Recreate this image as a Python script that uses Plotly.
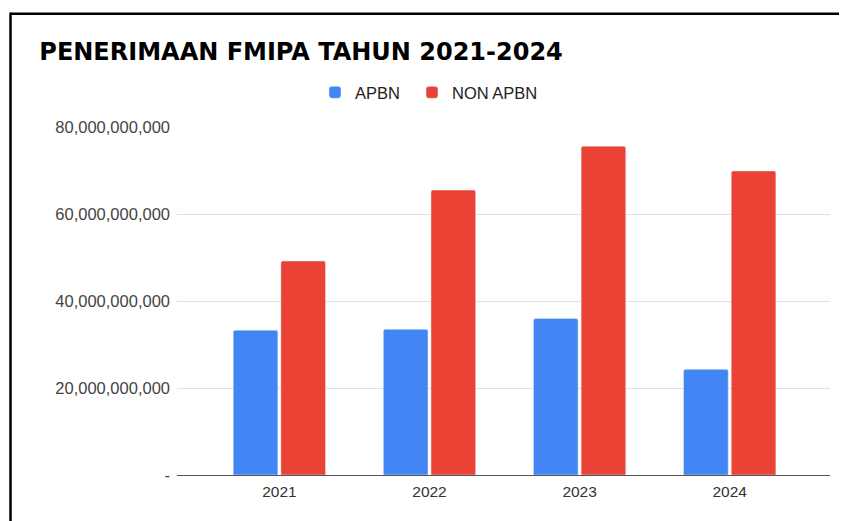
import plotly.graph_objects as go

years = ["2021", "2022", "2023", "2024"]
apbn = [33_300_000_000, 33_500_000_000, 36_000_000_000, 24_300_000_000]
non_apbn = [49_200_000_000, 65_500_000_000, 75_600_000_000, 69_900_000_000]
y_tickvals = [0, 20_000_000_000, 40_000_000_000, 60_000_000_000, 80_000_000_000]
y_ticktext = ["-", "20,000,000,000", "40,000,000,000", "60,000,000,000", "80,000,000,000"]

# the page body has an 8px margin; work in page pixels and convert
OFF = 8
W, H = 847 - OFF, 521 - OFF
L, T = 177 - OFF, 127 - OFF
R = W - (830 - OFF)
B = H - (475.5 - OFF)
pw, ph = W - L - R, H - T - B

def px_x(p):  # page pixel -> paper x
    return (p - OFF - L) / pw

def px_y(p):  # page pixel -> paper y
    return (H - B - (p - OFF)) / ph

fig = go.Figure()
fig.add_trace(go.Bar(name="APBN", x=years, y=apbn, legend="legend",
                     marker=dict(color="#4285F4", cornerradius=2)))
fig.add_trace(go.Bar(name="NON APBN", x=years, y=non_apbn, legend="legend2",
                     marker=dict(color="#EA4335", cornerradius=2)))

legend_common = dict(orientation="h", xanchor="left", yanchor="middle",
                     font=dict(size=16.5, color="#222"), bgcolor="rgba(0,0,0,0)")

fig.update_layout(
    width=W, height=H,
    margin=dict(l=L, r=R, t=T, b=B, pad=0),
    paper_bgcolor="white", plot_bgcolor="white",
    barmode="group", bargap=0.365, bargroupgap=0.063,
    font=dict(family="Liberation Sans, Arial, sans-serif", color="#444"),
    title=dict(text="<b>PENERIMAAN FMIPA TAHUN 2021-2024</b>",
               font=dict(family="DejaVu Sans", size=24, color="#000"),
               x=(39.3 - OFF) / W, xref="container", xanchor="left",
               y=1 - (51.5 - OFF) / H, yref="container", yanchor="middle"),
    legend=dict(x=px_x(315), y=px_y(92.5), **legend_common),
    legend2=dict(x=px_x(412), y=px_y(92.5), **legend_common),
    showlegend=True,
    xaxis=dict(range=[-0.682, 3.668], showgrid=False, zeroline=False, showline=False,
               ticks="", ticklabelstandoff=5, tickfont=dict(size=15.5, color="#333"), fixedrange=True),
    yaxis=dict(range=[0, 80_000_000_000], tickvals=y_tickvals, ticktext=y_ticktext,
               showgrid=True, gridcolor="#e0e0e0", gridwidth=1,
               zeroline=True, zerolinecolor="#555", zerolinewidth=1.3,
               showline=False, ticks="", ticklabelstandoff=6,
               tickfont=dict(size=16.5, color="#444")),
    shapes=[
        dict(type="line", xref="paper", yref="paper", x0=px_x(10.5), x1=px_x(849),
             y0=px_y(13.5), y1=px_y(13.5), line=dict(color="black", width=2.5)),
        dict(type="line", xref="paper", yref="paper", x0=px_x(10.5), x1=px_x(10.5),
             y0=px_y(12.3), y1=px_y(523), line=dict(color="black", width=2.5)),
    ],
)

fig.write_html("out.html")
